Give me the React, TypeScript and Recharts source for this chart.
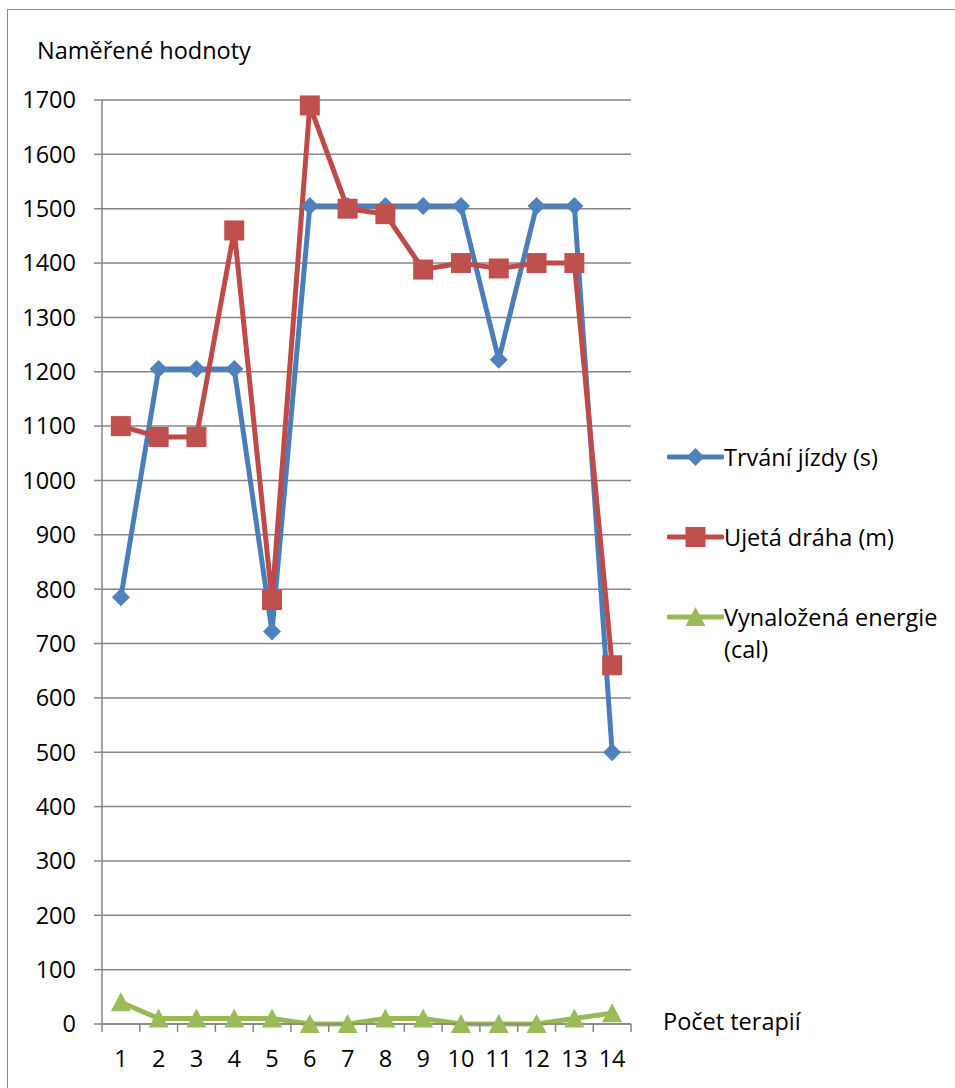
import React from 'react';
import { LineChart, Line, XAxis, YAxis, CartesianGrid, Legend } from 'recharts';

const categories = ['1', '2', '3', '4', '5', '6', '7', '8', '9', '10', '11', '12', '13', '14'];
const duration = [785, 1205, 1205, 1205, 722, 1505, 1505, 1505, 1505, 1505, 1222, 1505, 1505, 500];
const distance = [1100, 1080, 1080, 1460, 780, 1690, 1500, 1490, 1388, 1400, 1390, 1400, 1400, 660];
const energy = [40, 10, 10, 10, 10, 0, 0, 10, 10, 0, 0, 0, 10, 20];
const yTicks = [0, 100, 200, 300, 400, 500, 600, 700, 800, 900, 1000, 1100, 1200, 1300, 1400, 1500, 1600, 1700];

const seriesNames = ['Trvání jízdy (s)', 'Ujetá dráha (m)', 'Vynaložená energie (cal)'];
const yTitle = 'Naměřené hodnoty';
const xTitle = 'Počet terapií';

const data = categories.map((c, i) => ({
  cat: c,
  duration: duration[i],
  distance: distance[i],
  energy: energy[i],
}));

const FONT = '"Open Sans", "Noto Sans", sans-serif';
const FS = 23.5;
const GRID = '#868686';
const HALF_BAND = 18.86;

type Shape = 'diamond' | 'square' | 'triangle';

const series: { key: string; name: string; line: string; marker: string; shape: Shape }[] = [
  { key: 'duration', name: seriesNames[0], line: '#4A7EBB', marker: '#4F81BD', shape: 'diamond' },
  { key: 'distance', name: seriesNames[1], line: '#BE4B48', marker: '#C0504D', shape: 'square' },
  { key: 'energy', name: seriesNames[2], line: '#98B954', marker: '#9BBB59', shape: 'triangle' },
];

function markerEl(shape: Shape, cx: number, cy: number, color: string, key?: any) {
  if (shape === 'diamond') {
    const r = 9;
    return <polygon key={key} points={`${cx},${cy - r} ${cx + r},${cy} ${cx},${cy + r} ${cx - r},${cy}`} fill={color} />;
  }
  if (shape === 'square') {
    const h = 10;
    return <rect key={key} x={cx - h} y={cy - h} width={2 * h} height={2 * h} fill={color} />;
  }
  const w = 10;
  return <polygon key={key} points={`${cx},${cy - 10} ${cx + w},${cy + 9} ${cx - w},${cy + 9}`} fill={color} />;
}

const makeDot = (shape: Shape, color: string) => (props: any) => {
  const { cx, cy, index } = props;
  if (cx == null || cy == null) return <g key={`d-${index}`} />;
  return markerEl(shape, cx, cy, color, `d-${shape}-${index}`);
};

const XTick = (props: any) => {
  const { x, y, payload, index, visibleTicksCount } = props;
  const off = HALF_BAND;
  const axisY = y - 26;
  const last = index === (visibleTicksCount ?? categories.length) - 1;
  return (
    <g>
      <line x1={x - off} x2={x - off} y1={axisY} y2={axisY + 8} stroke={GRID} strokeWidth={1.5} />
      {last && <line x1={x + off} x2={x + off} y1={axisY} y2={axisY + 8} stroke={GRID} strokeWidth={1.5} />}
      <text x={x} y={y} dy="0.71em" textAnchor="middle" fill="#000" fontSize={FS} fontFamily={FONT}>
        {payload.value}
      </text>
    </g>
  );
};

const LegendContent = () => (
  <div style={{ fontFamily: FONT, fontSize: FS, color: '#000', lineHeight: '32px' }}>
    {series.map((s) => (
      <div key={s.key} style={{ display: 'flex', alignItems: 'flex-start', height: 80 }}>
        <svg width={57} height={32} style={{ flex: '0 0 auto' }}>
          <line x1={2} x2={55} y1={16} y2={16} stroke={s.line} strokeWidth={5} strokeLinecap="round" />
          {markerEl(s.shape, 28.5, 16, s.marker)}
        </svg>
        <div style={{ width: 225, marginLeft: 0 }}>{s.name}</div>
      </div>
    ))}
  </div>
);

export default function App() {
  return (
    <div
      style={{
        position: 'absolute',
        left: 7,
        top: 9,
        width: 960,
        height: 1090,
        borderTop: '1px solid #8a8a8a',
        borderLeft: '1px solid #8a8a8a',
        background: '#fff',
      }}
    >
      <div style={{ position: 'absolute', left: 0, top: 0 }}>
        <LineChart
          width={947}
          height={1078}
          data={data}
          margin={{ top: 90, right: 324, bottom: 24, left: 19 }}
          style={{ fontFamily: FONT }}
        >
          <CartesianGrid horizontal vertical={false} stroke={GRID} strokeWidth={1.5} />
          <XAxis
            dataKey="cat"
            height={40}
            padding={{ left: HALF_BAND, right: HALF_BAND }}
            axisLine={{ stroke: GRID, strokeWidth: 1.5 }}
            tickLine={false}
            tickSize={8}
            tickMargin={18}
            interval={0}
            tick={<XTick />}
            label={{
              content: (p: any) => {
                const vb = p.viewBox || { x: 95, y: 1014, width: 528 };
                return (
                  <text x={vb.x + vb.width + 32} y={vb.y - 3} dominantBaseline="central" fontSize={FS} fontFamily={FONT} fill="#000">
                    {xTitle}
                  </text>
                );
              },
            }}
          />
          <YAxis
            width={75}
            domain={[0, 1700]}
            ticks={yTicks}
            interval={0}
            axisLine={{ stroke: GRID, strokeWidth: 1.5 }}
            tickLine={{ stroke: GRID, strokeWidth: 1.5 }}
            tickSize={8}
            tickMargin={18}
            tick={{ fill: '#000', fontSize: FS, fontFamily: FONT }}
            label={{
              content: (p: any) => {
                const vb = p.viewBox || { x: 19, y: 90 };
                return (
                  <text x={vb.x + 10} y={vb.y - 50} dominantBaseline="central" fontSize={FS} fontFamily={FONT} fill="#000">
                    {yTitle}
                  </text>
                );
              },
            }}
          />
          <Legend
            layout="vertical"
            align="center"
            verticalAlign="middle"
            content={<LegendContent />}
            wrapperStyle={{ left: 659, top: 431, width: 288 }}
          />
          {series.map((s) => (
            <Line
              key={s.key}
              type="linear"
              dataKey={s.key}
              name={s.name}
              stroke={s.line}
              strokeWidth={5}
              dot={makeDot(s.shape, s.marker)}
              activeDot={false}
              isAnimationActive={false}
            />
          ))}
        </LineChart>
      </div>
    </div>
  );
}
